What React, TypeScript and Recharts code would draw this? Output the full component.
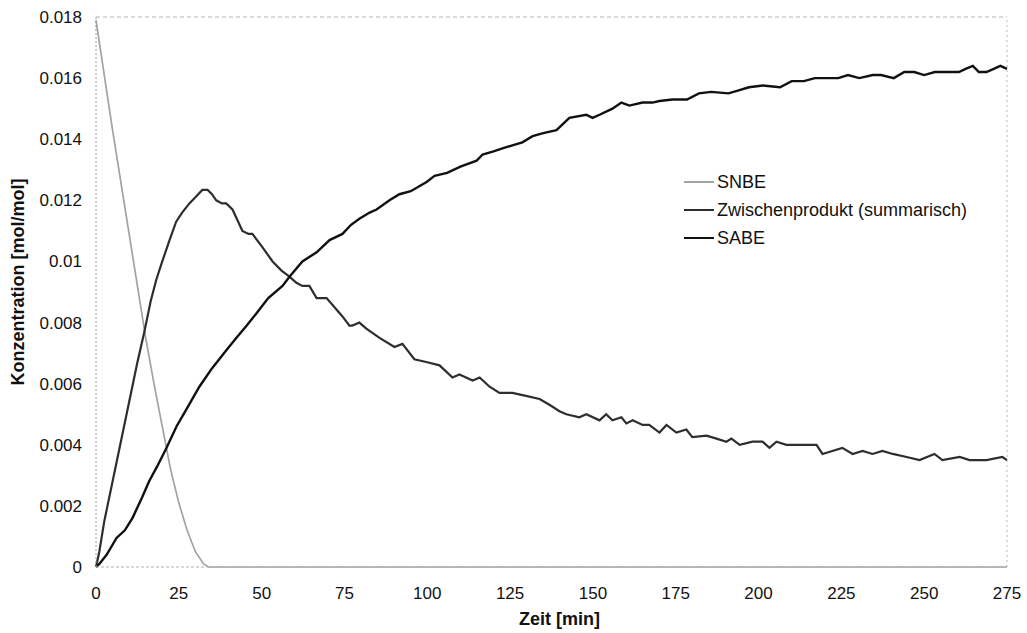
import { LineChart, Line, XAxis, YAxis, Legend, ReferenceLine } from 'recharts';

const FONT = "'Liberation Sans', Arial, Helvetica, sans-serif";

const xTicks = [0, 25, 50, 75, 100, 125, 150, 175, 200, 225, 250, 275];
const yTicks = [0, 0.002, 0.004, 0.006, 0.008, 0.01, 0.012, 0.014, 0.016, 0.018];

// [Zeit in min, Konzentration in mol/mol]
const snbe: [number, number][] = [
  [0, 0.0179], [2.5, 0.0161], [5, 0.0143], [7.5, 0.0126], [10, 0.0109], [12.5, 0.0092],
  [15, 0.0075], [17.5, 0.006], [20, 0.0046], [22.5, 0.0032], [25, 0.0021], [27.5, 0.0012],
  [30, 0.0005], [32.5, 0.0001], [34, 0], [75, 0], [150, 0], [225, 0], [275, 0],
];

const zwischenprodukt: [number, number][] = [
  [0, 0], [1, 0.0005], [2.5, 0.0015], [5, 0.0028], [7.5, 0.0041], [10, 0.0054], [12.5, 0.0067],
  [14.6, 0.0077], [16.5, 0.0087], [18.2, 0.0094], [20, 0.01], [22.2, 0.0107], [24.2, 0.0113],
  [26, 0.0116], [28.2, 0.0119], [30, 0.0121], [32.1, 0.01234], [33.7, 0.01234], [35, 0.0122],
  [36.3, 0.012], [38, 0.0119], [39.3, 0.0119], [41.2, 0.0117], [42.5, 0.0114], [44.2, 0.011],
  [46, 0.0109], [47.2, 0.0109], [50, 0.0105], [53.3, 0.01], [56, 0.0097], [58.4, 0.0095],
  [60.5, 0.0093], [62.3, 0.0092], [64.4, 0.0092], [66.6, 0.0088], [69.6, 0.0088], [72, 0.0085],
  [74.4, 0.0082], [76.5, 0.0079], [77.4, 0.0079], [79.5, 0.008], [81.6, 0.0078], [85.6, 0.0075],
  [90.1, 0.0072], [92.5, 0.0073], [96.1, 0.0068], [100, 0.0067], [103.7, 0.0066], [107.6, 0.0062],
  [109.7, 0.0063], [113.7, 0.0061], [115.8, 0.0062], [118.8, 0.0059], [121.8, 0.0057],
  [125.7, 0.0057], [129.8, 0.0056], [133.9, 0.0055], [137, 0.0053], [139.9, 0.0051], [142, 0.005],
  [145.9, 0.0049], [148, 0.005], [152, 0.0048], [154, 0.005], [155.9, 0.0048], [158.6, 0.0049],
  [160.1, 0.0047], [162, 0.0048], [165, 0.00465], [167, 0.00465], [170.1, 0.0044], [172.2, 0.00465],
  [175.2, 0.0044], [178.2, 0.0045], [180, 0.00425], [184.3, 0.0043], [187.3, 0.0042], [190.3, 0.0041],
  [191.8, 0.0042], [194.3, 0.004], [198.2, 0.0041], [201.2, 0.0041], [203.3, 0.0039], [205.4, 0.0041],
  [208.4, 0.004], [212.4, 0.004], [217.5, 0.004], [219.3, 0.0037], [225.3, 0.0039], [228.4, 0.0037],
  [231.4, 0.0038], [234.4, 0.0037], [237.4, 0.0038], [240.5, 0.0037], [244.7, 0.0036], [248.6, 0.0035],
  [253.1, 0.0037], [255.5, 0.0035], [260.7, 0.0036], [263.7, 0.0035], [268.8, 0.0035], [273.6, 0.0036],
  [275, 0.0035],
];

const sabe: [number, number][] = [
  [0, 0], [1, 0.0001], [3.2, 0.0004], [6.2, 0.00095], [8.7, 0.0012], [11, 0.0016], [14, 0.0023],
  [16, 0.0028], [18.5, 0.0033], [21.3, 0.0039], [24.3, 0.0046], [27.5, 0.0052], [31.2, 0.0059],
  [35, 0.0065], [39.4, 0.0071], [42.4, 0.0075], [45.5, 0.0079], [48.4, 0.0083], [52, 0.0088],
  [56.3, 0.0092], [58.4, 0.0095], [62.3, 0.01], [66.6, 0.0103], [70.5, 0.0107], [74.4, 0.0109],
  [77, 0.0112], [79.5, 0.0114], [82.6, 0.0116], [84.7, 0.0117], [88.6, 0.012], [91.6, 0.0122],
  [95, 0.0123], [99.8, 0.0126], [102.2, 0.0128], [106, 0.0129], [110, 0.0131], [114.9, 0.0133],
  [116.7, 0.0135], [120, 0.0136], [122.7, 0.0137], [125.7, 0.0138], [128.7, 0.0139], [131.8, 0.0141],
  [135, 0.0142], [139, 0.0143], [142.9, 0.0147], [148, 0.0148], [149.9, 0.0147], [152, 0.0148],
  [155.9, 0.015], [158.6, 0.0152], [161, 0.0151], [165, 0.0152], [168, 0.0152], [170.1, 0.01525],
  [174, 0.0153], [178.4, 0.0153], [182, 0.0155], [185.7, 0.01555], [190.9, 0.0155], [194, 0.0156],
  [197.1, 0.0157], [201.3, 0.01576], [206.5, 0.0157], [210, 0.0159], [213.7, 0.0159], [217, 0.016],
  [220, 0.016], [224.1, 0.016], [227, 0.0161], [230.4, 0.016], [234.5, 0.0161], [237, 0.0161],
  [240.8, 0.016], [244, 0.0162], [247, 0.0162], [250, 0.0161], [253.2, 0.0162], [256, 0.0162],
  [260.5, 0.0162], [262.5, 0.0163], [264.7, 0.0164], [266.5, 0.0162], [268.8, 0.0162], [271, 0.0163],
  [273, 0.0164], [275, 0.0163],
];

const toRows = (pts: [number, number][]) => pts.map(([t, c]) => ({ t, c }));

const series = [
  { name: 'SNBE', points: snbe, color: '#a3a3a3', width: 1.7 },
  { name: 'Zwischenprodukt (summarisch)', points: zwischenprodukt, color: '#2e2e2e', width: 2.2 },
  { name: 'SABE', points: sabe, color: '#111111', width: 2.4 },
];
const seriesOrder = series.map((s) => s.name);

const formatY = (v: number) => (v === 0 ? '0' : String(Number(v.toFixed(3))));

// legend in series order, drawn as a block inside the plot
const LegendBox = ({ payload }: any) => {
  const items = [...(payload || [])].sort(
    (a: any, b: any) => seriesOrder.indexOf(a.value) - seriesOrder.indexOf(b.value),
  );
  return (
    <div style={{ fontFamily: FONT, fontSize: 18, color: '#111', textAlign: 'left' }}>
      {items.map((p: any) => (
        <div key={p.value} style={{ display: 'flex', alignItems: 'center', height: 28 }}>
          <svg width={32} height={10} style={{ marginRight: 2 }}>
            <line x1={1} y1={5} x2={31} y2={5} stroke={p.color} strokeWidth={2} />
          </svg>
          <span>{p.value}</span>
        </div>
      ))}
    </div>
  );
};

const YTitle = ({ viewBox }: any) => {
  const cx = 18;
  const cy = viewBox.y + viewBox.height / 2 - 10;
  return (
    <text x={cx} y={cy} transform={`rotate(-90 ${cx} ${cy})`} textAnchor="middle" dominantBaseline="central"
      style={{ fontFamily: FONT, fontSize: 18, fontWeight: 700, fill: '#111' }}>
      Konzentration [mol/mol]
    </text>
  );
};

const XTitle = ({ viewBox }: any) => (
  <text x={viewBox.x + viewBox.width / 2 + 8} y={619} textAnchor="middle" dominantBaseline="central"
    style={{ fontFamily: FONT, fontSize: 18, fontWeight: 700, fill: '#111' }}>
    Zeit [min]
  </text>
);

export default function App() {
  const tickStyle = { fontFamily: FONT, fontSize: 17, fill: '#111' };
  return (
    <div style={{ position: 'absolute', left: 0, top: 0, background: '#fff' }}>
      <LineChart width={1027} height={633} margin={{ top: 17, right: 20, bottom: 0, left: 0 }}>
        <XAxis
          type="number"
          dataKey="t"
          domain={[0, 275]}
          ticks={xTicks}
          allowDuplicatedCategory={false}
          tick={tickStyle}
          tickLine={false}
          tickSize={6}
          tickMargin={14}
          height={66}
          axisLine={{ stroke: '#b0b0b0', strokeDasharray: '3 2' }}
          label={<XTitle />}
        />
        <YAxis
          type="number"
          domain={[0, 0.018]}
          ticks={yTicks}
          tickFormatter={formatY}
          tick={tickStyle}
          tickLine={false}
          tickSize={6}
          tickMargin={8}
          width={96}
          axisLine={{ stroke: '#9a9a9a', strokeDasharray: '2 2' }}
          label={<YTitle />}
        />
        <ReferenceLine y={0.018} stroke="#b5b5b5" strokeDasharray="4 3" />
        <ReferenceLine x={275} stroke="#b5b5b5" strokeDasharray="2 3" />
        <Legend
          layout="vertical"
          verticalAlign="middle"
          align="center"
          content={<LegendBox />}
          wrapperStyle={{ left: 683, top: 168, width: 330 }}
        />
        {series.map((s) => (
          <Line
            key={s.name}
            data={toRows(s.points)}
            dataKey="c"
            name={s.name}
            type="linear"
            stroke={s.color}
            strokeWidth={s.width}
            dot={false}
            activeDot={false}
            isAnimationActive={false}
          />
        ))}
      </LineChart>
    </div>
  );
}
